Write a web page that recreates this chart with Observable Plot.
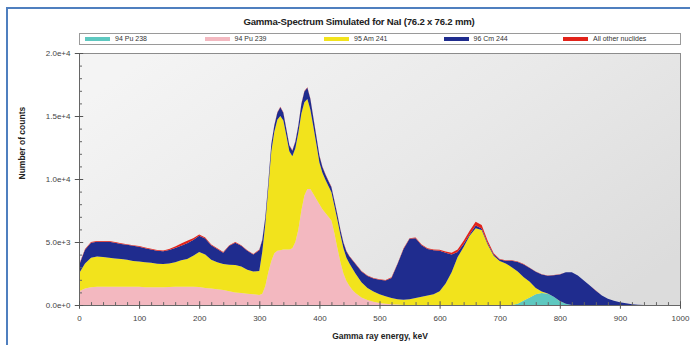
<!DOCTYPE html>
<html>
<head>
<meta charset="utf-8">
<script src="https://cdn.jsdelivr.net/npm/d3@7"></script>
<script src="https://cdn.jsdelivr.net/npm/@observablehq/plot@0.6"></script>
<style>
  body { margin: 0; background: #fff; font-family: "Liberation Sans", Arial, sans-serif; }
  #wrap { position: relative; width: 690px; height: 345px; overflow: hidden; background: #fff; }
  #edge { position: absolute; left: 6px; top: 7px; width: 720px; height: 400px;
          border-left: 2px solid #4f7fbf; border-top: 2px solid #4f7fbf; }
  #title { position: absolute; left: 216px; width: 286px; top: 16px; text-align: center;
           font-weight: bold; font-size: 9.6px; color: #222; white-space: nowrap; letter-spacing: -0.2px; }
  #legend { position: absolute; left: 79px; top: 33px; width: 600px; height: 10px;
            border: 1px solid #9a9a9a; background: #fff; }
  .item { position: absolute; top: 0; height: 10px; font-size: 7px; line-height: 10px; color: #333; white-space: nowrap; }
  .sw { position: absolute; top: 3px; left: 0; width: 25px; height: 4px; }
  .lab { position: absolute; left: 30px; top: 0; }
  #chart { position: absolute; left: 0; top: 48px; }
</style>
</head>
<body>
<div id="wrap">
  <div id="edge"></div>
  <div id="title">Gamma-Spectrum Simulated for NaI (76.2 x 76.2 mm)</div>
  <div id="legend"></div>
  <div id="chart"></div>
</div>
<script>
// Energy grid (keV); finer steps across the 300–460 keV double peak
const energy = [
  0, 10, 20, 30, 40, 50, 60, 70, 80, 90, 100, 110, 120, 130, 140, 150, 160, 170, 180, 190,
  200, 210, 220, 230, 240, 250, 260, 270, 280, 290, 300,
  305, 310, 315, 320, 325, 330, 335, 340, 345, 350, 355, 360, 365, 370, 375, 380, 385, 390, 395,
  400, 405, 410, 415, 420, 425, 430, 435, 440, 445, 450, 455, 460,
  470, 480, 490, 500, 510, 520, 530, 540, 550, 560, 570, 580, 590, 600, 610, 620, 630, 640, 650, 660,
  670, 680, 690, 700, 710, 720, 730, 740, 750, 760, 770, 780, 790, 800, 810, 820, 830, 840, 850, 860,
  870, 880, 890, 900, 910, 920, 930, 940, 950
];

// Counts contributed by each nuclide at every energy
const pu238 = [
  0, 0, 0, 0, 0, 0, 0, 0, 0, 0, 0, 0, 0, 0, 0, 0, 0, 0, 0, 0,
  0, 0, 0, 0, 0, 0, 0, 0, 0, 0, 0,
  0, 0, 0, 0, 0, 0, 0, 0, 0, 0, 0, 0, 0, 0, 0, 0, 0, 0, 0,
  0, 0, 0, 0, 0, 0, 0, 0, 0, 0, 0, 0, 0,
  0, 0, 0, 0, 0, 0, 0, 0, 0, 0, 0, 0, 0, 0, 0, 0, 0, 0, 0, 0,
  0, 0, 0, 0, 0, 0, 100, 350, 600, 850, 950, 900, 650, 300, 100, 0, 0, 0, 0, 0,
  0, 0, 0, 0, 0, 0, 0, 0, 0
];
const pu239 = [
  1100, 1300, 1400, 1450, 1450, 1450, 1450, 1450, 1450, 1450, 1450, 1400, 1400, 1400, 1400, 1420, 1450, 1450, 1450, 1450,
  1420, 1350, 1300, 1250, 1200, 1100, 1000, 950, 900, 850, 800,
  900, 1500, 2600, 3500, 4100, 4300, 4350, 4400, 4400, 4400, 4500, 5000, 6000, 7500, 8700, 9200, 9200, 8800, 8400,
  8000, 7600, 7300, 7000, 6700, 5700, 4500, 3400, 2500, 1900, 1500, 1200, 950,
  600, 400, 250, 150, 100, 60, 30, 0, 0, 0, 0, 0, 0, 0, 0, 0, 0, 0, 0, 0,
  0, 0, 0, 0, 0, 0, 0, 0, 0, 0, 0, 0, 0, 0, 0, 0, 0, 0, 0, 0,
  0, 0, 0, 0, 0, 0, 0, 0, 0
];
const am241 = [
  1400, 2000, 2350, 2400, 2350, 2300, 2250, 2200, 2150, 2050, 2000, 2000, 1950, 1880, 1850, 1880, 1950, 2100, 2200, 2450,
  2780, 2650, 2300, 2150, 2050, 2100, 2180, 2100, 1900, 1800, 1900,
  3350, 4950, 6700, 8700, 9650, 10400, 10650, 10250, 9050, 7800, 7300, 7450, 7700, 7700, 7400, 7150, 6300, 5350, 4350,
  3300, 2900, 2650, 2450, 2250, 2150, 2250, 2150, 2000, 1850, 1800, 1700, 1550,
  1200, 950, 830, 700, 600, 490, 420, 420, 450, 550, 650, 750, 850, 1100, 1700, 2600, 3800, 4600, 5500, 6100,
  5950, 4800, 3900, 3500, 3300, 3000, 2550, 1850, 1250, 500, 130, 20, 10, 10, 0, 0, 0, 0, 0, 0,
  0, 0, 0, 0, 0, 0, 0, 0, 0
];
const cm244 = [
  640, 1090, 1190, 1170, 1220, 1270, 1250, 1200, 1180, 1200, 1180, 1110, 1060, 1030, 1020, 1070, 1130, 1160, 1250, 1250,
  1300, 1270, 1150, 1050, 900, 1500, 1770, 1650, 1500, 1350, 1650,
  900, 500, 450, 550, 500, 550, 700, 600, 500, 450, 450, 500, 550, 750, 850, 900, 850, 700, 600,
  550, 450, 400, 400, 400, 400, 400, 400, 450, 500, 550, 650, 750,
  850, 950, 1020, 1150, 1240, 1600, 2800, 4030, 4800, 4750, 4100, 3700, 3490, 3200, 2450, 1400, 400, 250, 100, 200,
  120, 100, 100, 110, 220, 520, 770, 1020, 1080, 1280, 1350, 1410, 1700, 2120, 2490, 2590, 2340, 1940, 1540, 1140,
  750, 500, 330, 220, 130, 60, 20, 0, 0
];
const others = [
  60, 60, 60, 60, 60, 60, 50, 50, 50, 50, 50, 50, 50, 50, 60, 80, 120, 170, 200, 150,
  100, 80, 50, 50, 50, 50, 50, 50, 50, 50, 50,
  40, 40, 40, 40, 40, 40, 40, 40, 40, 40, 40, 40, 40, 40, 40, 40, 40, 40, 40,
  40, 40, 40, 40, 40, 40, 40, 40, 40, 40, 40, 40, 40,
  50, 50, 50, 50, 50, 50, 50, 50, 50, 50, 50, 50, 60, 80, 100, 150, 200, 250, 300, 300,
  280, 200, 100, 40, 30, 30, 30, 30, 20, 20, 20, 20, 20, 20, 10, 10, 10, 10, 10, 10,
  0, 0, 0, 0, 0, 0, 0, 0, 0
];

// Series in stacking order, bottom to top
const nuclides = ["94 Pu 238", "94 Pu 239", "95 Am 241", "96 Cm 244", "All other nuclides"];
const colors = ["#5ec8c0", "#f3b8c0", "#f2e31c", "#1f2c8e", "#e2231a"];
const series = [pu238, pu239, am241, cm244, others];

// Axis ticks
const xMajor = [0, 100, 200, 300, 400, 500, 600, 700, 800, 900, 1000];
const xMinor = d3.range(0, 1001, 20).filter(v => v % 100 !== 0);
const yMajor = [0, 5000, 10000, 15000, 20000];
const yLabels = ["0.0e+0", "5.0e+3", "1.0e+4", "1.5e+4", "2.0e+4"];
const yMinor = d3.range(0, 20001, 1000).filter(v => v % 5000 !== 0);

const rows = series.flatMap((values, k) =>
  energy.map((e, i) => ({energy: e, counts: values[i], nuclide: nuclides[k]}))
);

// Legend strip
const legend = document.getElementById("legend");
nuclides.forEach((name, i) => {
  const item = document.createElement("div");
  item.className = "item";
  item.style.left = (5 + i * 119.5) + "px";
  item.innerHTML = `<div class="sw" style="background:${colors[i]}"></div><div class="lab"></div>`;
  item.querySelector(".lab").textContent = name;
  legend.appendChild(item);
});

// Soft grey gradient behind the plotting area
const background = () => {
  const defs = d3.create("svg:defs");
  const g = defs.append("linearGradient").attr("id", "plotbg")
    .attr("x1", "0").attr("y1", "0.2").attr("x2", "1").attr("y2", "0.8");
  g.append("stop").attr("offset", "0").attr("stop-color", "#f4f4f4");
  g.append("stop").attr("offset", "0.5").attr("stop-color", "#e9e9e9");
  g.append("stop").attr("offset", "1").attr("stop-color", "#dcdcdc");
  return defs.node();
};

const chart = Plot.plot({
  width: 690,
  height: 297,
  marginLeft: 79,
  marginRight: 10,
  marginTop: 5,
  marginBottom: 40,
  style: {fontFamily: "Liberation Sans, Arial, sans-serif", fontSize: "8px", color: "#333", background: "transparent"},
  x: {domain: [0, 1000], axis: null},
  y: {domain: [0, 20000], axis: null},
  color: {domain: nuclides, range: colors},
  marks: [
    background,
    Plot.frame({fill: "url(#plotbg)", stroke: "#8c8c8c"}),
    Plot.areaY(rows, {x: "energy", y: "counts", z: "nuclide", fill: "nuclide"}),
    Plot.ruleY([0], {stroke: "#666"}),
    Plot.ruleX([0], {stroke: "#666"}),
    Plot.ruleY(yMajor, {x1: -7, x2: 7, stroke: "#555"}),
    Plot.ruleY(yMinor, {x1: 0, x2: 5, stroke: "#666"}),
    Plot.ruleX(xMajor, {y1: -300, y2: 300, stroke: "#555"}),
    Plot.ruleX(xMinor, {y1: 0, y2: 230, stroke: "#666"}),
    Plot.text(yMajor, {x: 0, y: d => d, text: (d, i) => yLabels[i], textAnchor: "end", dx: -9, fill: "#444", fontSize: 8}),
    Plot.text(xMajor, {x: d => d, y: 0, text: d => String(d), dy: 13, fill: "#444", fontSize: 8}),
    Plot.text(["Gamma ray energy, keV"], {frameAnchor: "bottom", dy: 33, fontWeight: "bold", fill: "#222", fontSize: 8.5}),
    Plot.text(["Number of counts"], {frameAnchor: "left", dx: -57, rotate: -90, fontWeight: "bold", fill: "#222", fontSize: 8.5})
  ]
});
document.getElementById("chart").appendChild(chart);
</script>
</body>
</html>
